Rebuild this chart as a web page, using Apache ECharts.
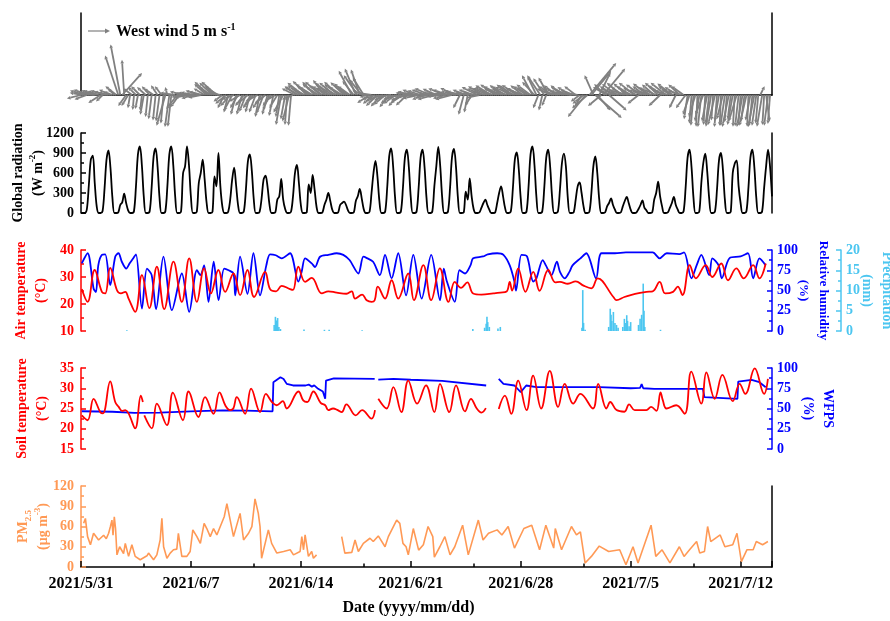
<!DOCTYPE html>
<html>
<head>
<meta charset="utf-8">
<script src="https://cdn.jsdelivr.net/npm/echarts@6/dist/echarts.min.js"></script>
<style>
  html, body { margin: 0; padding: 0; background: #fff; }
  #chart { width: 890px; height: 621px; }
</style>
</head>
<body>
<div id="chart"></div>
<script>
// Time runs in days since 2021/5/31 00:00; one tick label per week.
const dateLabels = ['2021/5/31', '2021/6/7', '2021/6/14', '2021/6/21', '2021/6/28', '2021/7/5', '2021/7/12'];
const dayMin = 0, dayMax = 44;

// Wind components (m s-1), 3-hourly, one row per day.
const windU = [
  [-3.2,-3.0,-3.4,-2.8,-3.5,-3.0,-2.6,-3.2],
  [-3.0,-2.5,-2.8,-1.5,-3.2,-2.8,-2.2,-2.6],
  [-2.0,-1.5,-2.5,-3.0,-2.2,4.5,-0.5,-1.8],
  [-1.5,-0.5,-2.0,-0.3,-1.8,-0.6,-2.0,-0.4],
  [-0.8,-2.0,-0.5,-1.8,-0.7,-2.2,-0.6,-1.5],
  [-0.8,-1.5,-0.6,-2.0,-0.5,-1.0,-0.8,-3.0],
  [-3.0,-2.5,-2.0,-2.2,-3.0,-2.5,-2.8,-3.2],
  [-3.0,-2.6,-3.2,-2.4,-3.0,-2.8,-3.1,-2.5],
  [-2.8,-3.2,-2.5,-3.0,-2.2,-3.4,-2.6,-3.0],
  [-2.0,-1.5,-2.5,-1.0,-2.2,-1.8,-2.8,-1.2],
  [-1.8,-2.5,-1.2,-2.0,-1.5,-2.4,-1.0,-2.0],
  [-2.2,-1.5,-2.8,-1.0,-2.0,-1.6,-2.5,-1.2],
  [-1.5,-2.0,-1.0,-2.5,-1.8,-0.8,-1.2,-2.2],
  [-1.0,-0.5,-1.5,-0.6,-2.5,-3.0,-2.8,-3.2],
  [-3.0,-3.5,-2.8,-3.2,-2.6,-3.4,-3.0,-2.8],
  [-3.2,-2.8,-3.5,-3.0,-2.6,-3.2,-2.9,-3.3],
  [-3.0,-3.4,-2.7,-3.2,-3.6,-2.9,-3.1,-2.6],
  [-3.2,-2.8,-3.0,-2.6,-2.5,-3.2,-2.0,-2.8],
  [-2.5,-3.0,-1.8,-2.8,-3.2,-2.4,-3.0,-2.6],
  [-3.0,-2.4,-3.2,-2.6,-3.0,-2.2,-3.4,-2.8],
  [-2.6,-3.2,-2.4,-3.0,-2.8,-3.2,-2.5,-3.0],
  [-3.0,-3.4,-2.8,-3.2,-3.6,-3.0,-3.3,-2.8],
  [-3.4,-3.0,-3.6,-3.2,-3.8,-3.1,-3.5,-3.0],
  [-3.2,-3.6,-3.0,-3.5,-3.3,-3.8,-3.1,-3.4],
  [-3.0,-1.5,-3.4,-1.2,-3.0,-0.8,-3.2,-1.5],
  [-3.4,-3.0,-3.6,-2.8,-3.2,-3.5,-3.0,-3.3],
  [-3.2,-3.6,-2.8,-3.4,-3.0,-3.5,-2.6,-3.2],
  [-3.0,-3.4,-2.8,-3.6,-3.2,-2.6,-3.4,-3.0],
  [-3.2,-2.8,-3.4,-3.0,-2.6,-3.2,-2.4,-2.8],
  [-2.0,-1.2,-3.0,-0.8,-2.5,-1.0,-2.2,-3.0],
  [-3.0,-3.4,-2.8,-3.2,-3.6,-2.6,-3.0,-3.4],
  [-3.2,-2.8,-3.5,-3.0,-2.6,-3.2,-2.0,-1.5],
  [-2.5,-4.0,-3.5,6.1,4.5,-2.0,6.0,3.0],
  [2.5,-3.0,5.0,-2.5,-3.2,4.0,-2.8,-3.0],
  [-3.0,-3.4,-2.8,-3.2,-2.6,-3.5,-3.0,-3.3],
  [-3.2,-2.8,-3.6,-3.0,-2.5,-3.3,-3.0,-2.7],
  [-3.0,-3.5,-2.6,-3.2,-2.8,-3.4,-3.0,-2.6],
  [-3.2,-2.8,-3.5,-3.0,-2.6,-3.3,-2.8,-1.5],
  [-3.0,-2.6,-3.2,-2.8,-2.2,-0.8,-1.5,-0.5],
  [-0.6,-1.5,-0.3,-1.0,-0.8,-1.8,-0.4,-1.2],
  [-0.8,-1.2,-0.4,-1.6,-0.6,-1.0,-0.3,-1.4],
  [-1.0,-0.5,-1.5,-0.7,-1.2,-0.4,-1.8,-0.8],
  [-0.5,-1.3,-0.8,-1.6,-0.3,-1.1,-0.7,-1.4],
  [-1.0,-0.6,1.0,-1.2,-0.4,0.8,-0.9,-0.5]
];
const windV = [
  [-0.8,0.5,1.0,-1.0,1.2,0.8,1.1,0.6],
  [1.0,0.9,-1.8,-1.5,1.0,0.8,0.6,1.2],
  [0.8,1.5,2.0,9.0,11.5,5.0,8.0,-2.5],
  [-2.5,-3.0,1.5,-3.4,1.8,-3.2,2.0,-3.6],
  [-4.5,1.8,-5.0,2.0,-5.5,1.5,-5.8,2.2],
  [-6.0,2.0,-6.5,-7.0,1.8,-7.3,-7.2,0.5],
  [0.3,-3.2,-2.8,-0.5,0.8,-0.5,0.4,-0.6],
  [0.5,-0.8,0.6,-0.4,1.0,-0.6,0.8,1.5],
  [2.5,3.0,1.8,2.8,2.2,3.0,1.5,0.5],
  [-1.5,-3.0,-2.0,-4.0,-2.5,-3.5,-1.0,-4.5],
  [-3.0,-1.5,-4.5,-2.5,-3.8,-2.0,-4.0,-3.0],
  [-2.5,-4.0,-1.5,-5.0,-3.0,-4.2,-2.0,-4.5],
  [-3.5,-2.5,-4.8,-1.5,-3.0,-5.0,-6.8,-4.0],
  [-5.5,-6.8,-6.0,-7.0,-1.0,1.5,2.0,1.8],
  [2.2,2.8,1.5,3.2,2.0,2.5,1.8,3.0],
  [2.5,1.8,3.0,2.2,3.4,2.0,2.8,1.6],
  [2.0,2.8,1.6,3.0,2.4,1.8,2.9,2.2],
  [2.6,2.0,5.5,3.2,6.0,4.5,5.8,3.5],
  [4.0,1.0,-0.5,-1.8,0.5,-2.0,-1.0,-2.5],
  [-1.5,-2.6,-0.8,-2.2,-1.2,-2.8,-0.5,-1.8],
  [-2.0,-1.0,-2.5,-0.6,-1.8,-1.2,-2.4,0.5],
  [0.8,-0.5,1.2,0.4,-0.8,1.0,0.2,-1.0],
  [1.2,-0.6,1.5,0.3,-1.0,1.4,0.6,-0.4],
  [0.5,1.5,-0.8,1.2,0.4,-1.0,1.6,0.8],
  [1.0,-3.0,0.8,-4.5,1.2,-4.0,0.6,-2.5],
  [1.2,0.5,1.8,-0.6,1.5,2.0,0.8,1.6],
  [1.8,2.2,1.0,2.4,1.5,2.0,2.3,1.2],
  [2.0,1.4,2.4,1.8,2.2,1.0,2.3,1.6],
  [1.6,2.2,1.0,2.0,1.8,2.4,4.5,3.0],
  [4.2,-3.0,4.5,-3.5,3.8,-2.5,4.0,1.5],
  [2.0,1.2,2.2,0.8,1.5,2.2,1.0,1.8],
  [1.4,1.8,0.6,1.2,2.0,0.5,-1.5,-2.5],
  [-2.0,-5.0,-3.0,7.3,5.5,4.5,-5.2,-3.5],
  [5.0,-2.5,6.0,2.5,1.8,-3.5,1.2,2.0],
  [1.5,2.5,1.0,2.8,1.8,1.2,2.6,0.8],
  [2.0,1.0,2.8,1.6,-2.0,2.4,1.2,2.0],
  [1.2,2.6,1.8,0.8,2.4,1.5,2.8,-2.5],
  [2.2,1.4,2.8,1.0,2.0,2.6,1.2,-3.0],
  [1.8,2.4,1.0,2.0,-3.0,-5.5,-4.5,-6.5],
  [-7.0,-5.0,-7.2,-6.0,-7.3,-4.5,-6.8,-6.0],
  [-6.5,-7.2,-5.8,-6.8,-7.3,-6.0,-7.0,-5.5],
  [-7.0,-6.2,-7.3,-5.5,-6.8,-7.2,-6.0,-7.1],
  [-6.8,-7.3,-6.0,-7.0,-7.2,-5.8,-6.9,-7.3],
  [-7.0,-6.5,2.0,-7.2,-6.8,-6.0,-7.0,-6.6]
];
const windRefSpeed = 5; // m s-1, reference arrow

// Global radiation (W m-2), 3-hourly, one row per day.
const radiation = [
  [0,0,0,60,420,800,860,450],
  [100,0,0,30,370,800,940,680],
  [230,0,0,10,120,160,290,150],
  [40,0,0,30,400,880,1000,720],
  [240,0,0,30,390,850,970,700],
  [230,0,0,30,400,880,1000,720],
  [240,0,0,30,600,700,1000,720],
  [240,0,0,20,450,600,800,500],
  [150,0,0,20,550,400,900,400],
  [100,0,0,20,200,500,680,420],
  [120,0,0,30,350,770,880,640],
  [210,0,0,20,220,500,560,400],
  [130,0,0,10,200,250,510,200],
  [60,0,0,20,250,600,720,450],
  [120,0,0,10,430,300,570,350],
  [90,0,0,10,120,200,300,180],
  [50,0,0,10,120,150,170,120],
  [40,0,0,10,180,250,360,220],
  [60,0,0,20,300,600,780,550],
  [180,0,0,30,390,850,970,700],
  [230,0,0,30,380,830,950,690],
  [230,0,0,30,380,830,950,690],
  [230,0,0,30,400,700,990,700],
  [230,0,0,30,380,840,960,700],
  [230,0,0,10,320,200,520,250],
  [60,0,0,10,80,150,200,120],
  [50,0,0,10,150,300,400,250],
  [80,0,0,30,370,800,910,660],
  [220,0,0,30,400,880,1000,720],
  [240,0,0,30,380,830,950,690],
  [230,0,0,30,360,750,890,700],
  [220,0,0,10,200,400,460,300],
  [100,0,0,20,300,700,850,600],
  [200,0,0,10,100,150,220,120],
  [50,0,0,10,100,180,240,150],
  [50,0,0,10,60,120,190,80],
  [40,0,0,10,200,300,470,250],
  [100,0,0,10,80,150,240,120],
  [50,0,0,30,380,830,950,690],
  [230,0,0,30,450,750,890,620],
  [220,0,0,30,360,790,900,650],
  [200,0,0,20,600,740,790,400],
  [150,0,0,30,380,830,950,690],
  [230,0,0,30,380,700,950,700]
];
const radiationLast = 250; // reading at 2021/7/14 00:00

// Air temperature (°C): [day, value]
const airTemp = [
  [0.05,25.5],[0.42,20.8],[0.87,32.6],[1.33,24.5],[1.54,23.9],[1.86,33.4],[2.29,25.1],[2.54,23.9],[2.82,24.5],[3.03,22.0],
  [3.45,17.1],[3.88,30.7],[4.35,18.5],[4.83,33.8],[5.30,18.1],[5.89,35.7],[6.42,20.8],[6.89,36.9],[7.38,20.8],[7.84,33.2],
  [8.27,23.9],[8.75,32.6],[9.18,24.5],[9.71,31.3],[10.13,23.3],[10.60,32.6],[11.02,22.6],[11.72,31.9],[12.04,25.5],[12.42,24.7],
  [12.78,26.7],[13.31,25.5],[13.5,25.2],[13.84,33.8],[14.27,28.2],[14.69,29.7],[15.33,23.9],[15.75,24.7],[16.28,24.2],[16.9,23.8],
  [17.24,24.7],[17.45,22.0],[17.9,23.5],[18.19,21.4],[18.51,20.8],[18.7,21.4],[18.9,26.4],[19.36,22.0],[19.78,28.8],[20.2,22.0],
  [20.84,31.3],[21.2,21.4],[21.8,34.4],[22.3,21.4],[22.85,33.2],[23.4,20.8],[23.8,28.2],[24.2,26.0],[24.6,28.0],[24.97,23.9],
  [25.5,23.5],[26.25,23.9],[26.7,24.2],[27.1,24.6],[27.3,28.2],[27.45,25.0],[27.84,33.2],[28.3,24.5],[28.8,31.9],[29.2,24.9],
  [29.75,32.6],[30.2,28.0],[30.5,28.2],[31.0,27.5],[31.5,28.4],[32.0,26.8],[32.5,25.8],[32.9,29.5],[33.9,22.6],[34.1,21.4],
  [34.6,22.6],[35.0,23.3],[35.6,24.1],[36.0,24.5],[36.4,24.7],[36.85,28.2],[37.2,23.9],[37.7,24.5],[38.0,26.4],[38.3,23.3],
  [38.76,34.4],[39.15,29.5],[39.78,34.4],[40.2,30.0],[40.77,35.0],[41.2,28.8],[41.73,33.2],[42.2,29.5],[42.8,34.4],[43.2,29.5],[43.6,35.0]
];

// Relative humidity (%): [day, value]
const relHumidity = [
  [0.05,83.5],[0.42,96],[0.8,52.5],[0.95,48],[1.1,81],[1.33,94],[1.54,94.6],[1.86,56.6],[2.18,91.7],[2.39,96],
  [2.6,85.5],[2.88,77],[3.1,83.5],[3.35,90.5],[3.5,94.6],[3.88,27.7],[4.2,77],[4.5,69],[4.78,27],[5.25,91.7],
  [5.79,25.7],[6.42,71],[6.89,23.6],[7.38,75.2],[7.6,69],[7.84,81],[8.12,36],[8.45,85.5],[8.76,38],[9.12,77],
  [9.4,75],[9.71,71],[9.82,44],[10.13,91.7],[10.6,46],[10.98,96],[11.4,44],[11.8,81],[12.04,94.6],[12.4,93.5],
  [12.78,89.7],[13.31,96],[13.84,61],[14.05,73],[14.27,89.7],[14.69,83.5],[14.9,79],[15.22,91.7],[15.75,94],[16.28,96],
  [16.7,94],[17.1,87.6],[17.66,71],[17.98,91.7],[18.2,90],[18.6,85.5],[19.03,69],[19.36,94],[19.78,65],[20.2,96],
  [20.7,44],[21.16,94],[21.69,40],[22.3,94],[22.86,38],[23.1,77],[23.3,61],[23.8,36],[24.1,75],[24.45,71],
  [24.8,81],[24.97,89.7],[25.6,92],[25.9,94.6],[26.5,96],[26.9,94],[27.3,81],[27.6,61],[27.7,50],[28.05,94],
  [28.4,92],[28.8,61],[29.0,65],[29.4,87.6],[29.6,81],[29.96,69],[30.3,85.5],[30.5,73],[30.8,65],[31.1,73],
  [31.3,81],[31.8,89.7],[32.18,96],[32.8,65],[33.14,96],[34.0,96],[34.7,97],[36.4,97],[36.85,89.7],[37.3,96],
  [38.1,95],[38.4,97],[38.87,65],[39.2,81],[39.5,94],[40.0,69],[40.2,89.7],[40.6,81],[40.8,65],[41.3,90],
  [42.0,92],[42.47,96],[42.8,65],[43.2,89.7],[43.6,81]
];

// Hourly precipitation (mm): [day, value]
const precipitation = [
  [2.92,0.2],[12.3,1.5],[12.38,3.5],[12.45,2.6],[12.52,3.2],[12.6,1.0],[12.7,0.5],[14.2,0.4],[15.5,0.3],[15.8,0.3],
  [17.9,0.2],[24.95,0.5],[25.7,0.8],[25.8,1.8],[25.85,3.5],[25.9,2.2],[26.0,1.0],[26.55,0.6],[26.7,1.0],[31.9,0.8],
  [31.95,10.1],[32.0,2.0],[32.1,0.3],[33.6,1.0],[33.7,5.5],[33.75,4.0],[33.8,2.5],[33.9,4.7],[34.0,2.0],[34.1,1.5],
  [34.2,0.8],[34.5,1.0],[34.6,3.0],[34.65,2.0],[34.75,3.9],[34.8,2.5],[34.9,1.2],[35.0,2.2],[35.5,1.5],[35.6,3.0],
  [35.7,4.0],[35.8,11.7],[35.85,5.0],[35.9,1.0],[36.9,0.3]
];

// Soil temperature (°C): [day, value]; '-' marks missing records
const soilTemp = [
  [0.05,23.3],[0.42,22.1],[0.8,27.4],[1.23,24.1],[1.4,23.8],[1.86,31.7],[2.18,26.6],[2.4,25.4],[2.61,24.4],[2.82,24.6],
  [3.03,23.8],[3.45,20.1],[3.81,28.2],[3.94,26.6],[3.97,'-'],
  [4.03,23.3],[4.51,20.1],[4.83,26.2],[5.47,20.9],[5.85,28.9],[6.49,22.1],[6.85,29.2],[7.48,22.9],[7.9,27.8],[8.44,23.7],
  [8.82,29.0],[9.2,25.7],[9.5,24.6],[9.7,25.0],[9.92,27.8],[10.45,23.7],[10.83,29.9],[11.4,24.1],[11.77,28.6],[12.16,26.6],
  [12.45,25.8],[12.85,26.8],[13.1,25.0],[13.85,29.2],[14.15,27.0],[14.4,26.6],[14.8,29.2],[15.26,26.4],[15.55,25.8],[15.75,24.6],
  [16.05,25.0],[16.35,24.6],[16.6,24.1],[16.9,26.0],[17.5,23.3],[17.9,24.6],[18.5,22.5],[18.72,24.6],[18.8,'-'],
  [18.93,27.4],[19.46,25.0],[19.89,30.3],[20.4,24.1],[20.84,31.9],[21.4,26.2],[21.97,30.7],[22.5,24.1],[22.86,31.1],[23.45,24.1],
  [23.88,30.7],[24.45,24.3],[24.83,27.4],[25.2,25.0],[25.5,24.0],[25.78,25.1],[26.2,'-'],
  [26.6,24.9],[26.99,28.2],[27.4,23.7],[27.84,31.9],[28.37,24.6],[28.79,33.1],[29.3,25.0],[29.85,34.3],[30.38,25.4],[30.8,31.1],
  [31.34,26.2],[31.8,28.6],[32.6,25.0],[32.93,31.1],[33.46,25.0],[33.7,26.6],[34.1,24.6],[34.6,24.2],[34.9,26.0],[35.26,24.6],
  [36.0,24.6],[36.3,25.4],[36.64,24.4],[36.9,29.0],[37.05,27.0],[37.28,25.0],[37.9,25.8],[38.44,23.7],[38.86,34.1],[39.5,26.2],
  [39.82,33.9],[40.35,27.4],[40.84,33.3],[41.5,26.8],[41.94,31.1],[42.3,28.6],[42.9,34.9],[43.5,28.6],[43.74,32.3]
];

// Water-filled pore space (%): [day, value]
const wfps = [
  [0.05,46.6],[2.0,46.0],[3.4,44.5],[5.0,45.0],[7.0,46.5],[9.0,47.8],[10.5,47.5],[12.2,46.5],[12.25,82.5],[12.7,88.6],
  [12.9,86.5],[13.1,80.4],[13.5,78.4],[14.3,78.4],[14.5,79.5],[14.7,77.0],[14.85,78.5],[15.1,74.3],[15.4,71.0],[15.55,62.0],
  [15.6,84.5],[16.1,87.3],[18.7,86.5],[18.8,'-'],
  [18.93,85.7],[19.9,86.5],[21.0,85.5],[23.0,84.0],[25.8,78.4],[26.2,'-'],
  [26.6,86.5],[26.9,80.4],[27.6,78.4],[28.0,70.2],[28.35,78.4],[29.0,76.3],[33.0,76.3],[35.0,75.0],[35.6,75.5],[35.7,80.0],
  [35.8,75.0],[36.5,74.3],[39.6,74.3],[39.7,64.1],[41.8,62.0],[41.85,83.3],[42.7,85.3],[43.2,82.5],[43.6,76.3]
];

// PM2.5 (µg m-3): [day, value]
const pm25 = [
  [0.17,64.7],[0.28,72],[0.42,45],[0.6,33],[0.8,50],[0.92,52],[1.12,40],[1.44,47],[1.61,42],[1.76,50],
  [1.87,59.8],[1.97,69.5],[2.04,47],[2.12,74.4],[2.2,57],[2.29,18],[2.46,30],[2.71,20],[2.82,35],[3.03,15.7],
  [3.24,33],[3.45,15.7],[3.77,10.8],[4.2,16.6],[4.3,20.6],[4.62,10.8],[4.83,18],[5.04,40],[5.15,72],[5.26,30],
  [5.47,13],[5.68,20.6],[5.89,25.5],[6.1,26.5],[6.2,50],[6.42,15.7],[6.74,15.7],[6.95,23],[7.12,55],[7.38,45],
  [7.6,35],[7.84,64.7],[8.01,57],[8.23,45],[8.44,57],[8.65,47.5],[9.12,74.4],[9.29,94],[9.5,69.5],[9.71,45],
  [10.13,79.4],[10.35,40],[10.67,50],[10.88,59.8],[11.08,101],[11.29,79.4],[11.4,60],[11.5,13],[11.93,55],[12.14,35],
  [12.47,20.6],[12.9,23],[13.32,25.5],[13.53,18],[13.95,23],[14.06,45],[14.17,25.5],[14.27,47.5],[14.48,15.7],[14.69,23],
  [14.8,13],[15.0,18],[15.5,'-'],
  [16.6,45],[16.8,20.6],[17.24,21.6],[17.45,40],[17.66,23],[17.98,35],[18.4,42.6],[18.61,37.7],[18.93,46],[19.36,30],
  [19.57,45],[20.1,69.5],[20.3,64.7],[20.5,35],[20.7,30],[20.84,18],[21.16,57],[21.5,25],[21.8,33],[22.1,60],
  [22.4,45],[22.5,14.7],[22.85,30],[23.17,45],[23.5,18],[23.8,30],[24.3,62],[24.66,18],[25.3,69.5],[25.6,40],
  [25.95,50],[26.5,55],[26.8,47.5],[27.2,60],[27.6,28],[28.2,57],[28.7,62],[29.2,25.5],[29.6,62],[30.1,28],
  [30.2,57],[30.6,25.5],[31.23,60],[31.55,47.5],[31.8,52],[32.1,5.9],[32.5,15.7],[33.0,31],[33.6,23],[34.3,25.5],
  [34.7,3.4],[35.15,30],[35.47,6],[36.3,62],[36.6,15.7],[37.0,25.5],[37.5,6],[38.1,30],[38.4,15.7],[38.75,25.5],
  [39.2,37.7],[39.4,20.6],[39.7,23],[39.9,60],[40.1,37.7],[40.7,47.5],[41.0,30],[41.5,33],[41.77,50],[42.05,8],
  [42.4,25.5],[42.8,25.5],[43.0,37.7],[43.4,33],[43.74,37.7]
];

// ---------- drawing ----------
const FONT = '"Liberation Serif", "Times New Roman", serif';
const RED = '#ff0000', BLUE = '#0000ff', CYAN = '#4cc6f0', ORANGE = '#ff9955', GRAY = '#808080';
const GRID_LEFT = 81, GRID_RIGHT = 118, PLOT_W = 890 - GRID_LEFT - GRID_RIGHT;
const PRECIP_AXIS_X = 841;          // outer right axis of the weather panel
const PX_PER_MS = 4.4;              // stick length per m s-1

function sampleRows(rows) {
  const out = [];
  rows.forEach((row, d) => row.forEach((v, k) => out.push([d + k / row.length, v])));
  return out;
}
const radData = sampleRows(radiation).concat([[radiation.length, radiationLast]]);
const windData = [];
windU.forEach((row, d) => row.forEach((u, k) => windData.push([d + k / row.length, u, windV[d][k]])));

function nameStyle(color, size) {
  const base = { color, fontFamily: FONT, fontWeight: 'bold' };
  return Object.assign({}, base, {
    fontSize: size, lineHeight: 20,
    rich: {
      t: Object.assign({}, base, { fontSize: size, lineHeight: 20 }),
      sup: Object.assign({}, base, { fontSize: 9, lineHeight: 9, verticalAlign: 'top' }),
      sub: Object.assign({}, base, { fontSize: 9, lineHeight: 9, verticalAlign: 'bottom' })
    }
  });
}
function valueAxis(o) {
  const color = o.color;
  return {
    type: 'value', gridIndex: o.grid, position: o.position,
    min: o.min, max: o.max, interval: o.interval,
    axisLine: { show: true, onZero: false, lineStyle: { color, width: 1.5 } },
    axisTick: { show: true, inside: true, length: 5, lineStyle: { color, width: 1.5 } },
    minorTick: { show: true, splitNumber: 2, length: 3, lineStyle: { color, width: 1.5 } },
    axisLabel: { color, fontFamily: FONT, fontWeight: 'bold', fontSize: 14, margin: o.margin || 7,
      formatter: v => String(v) },
    splitLine: { show: false },
    name: o.name || '', nameLocation: 'middle', nameGap: o.nameGap || 30, nameMoveOverlap: false,
    nameRotate: o.position === 'left' ? 90 : -90,
    nameTextStyle: nameStyle(color, o.nameSize || 14)
  };
}
function bareAxis(grid, position) {
  return { type: 'value', gridIndex: grid, position, min: 0, max: 1,
    axisLine: { show: true, onZero: false, lineStyle: { color: '#000', width: 1.5 } },
    axisTick: { show: false }, axisLabel: { show: false }, splitLine: { show: false } };
}
function hiddenX(grid, max) {
  return { type: 'value', gridIndex: grid, min: dayMin, max: max === undefined ? dayMax : max, show: false };
}

const grids = [
  { left: GRID_LEFT, right: GRID_RIGHT, top: 13, height: 82 },
  { left: GRID_LEFT, right: GRID_RIGHT, top: 133, height: 80 },
  { left: GRID_LEFT, right: GRID_RIGHT, top: 250, height: 81 },
  { left: GRID_LEFT, right: GRID_RIGHT, top: 368, height: 81 },
  { left: GRID_LEFT, right: GRID_RIGHT, top: 486, height: 81 },
  // minor date ticks, four days after each labelled week
  { left: GRID_LEFT + PLOT_W * 4 / 44, width: PLOT_W * 35 / 44, top: 486, height: 81 },
  // precipitation: same day scale, widened to the outer axis
  { left: GRID_LEFT, width: PRECIP_AXIS_X - GRID_LEFT, top: 250, height: 81 }
].map(g => Object.assign({ outerBoundsMode: 'none', containLabel: false }, g));

const xAxes = [
  { type: 'value', gridIndex: 0, min: dayMin, max: dayMax, position: 'top',
    axisLine: { show: true, lineStyle: { color: '#000', width: 1.5 } },
    axisTick: { show: false }, axisLabel: { show: false }, splitLine: { show: false } },
  hiddenX(1), hiddenX(2), hiddenX(3),
  { type: 'value', gridIndex: 4, min: dayMin, max: dayMax, interval: 7,
    axisLine: { show: true, onZero: false, lineStyle: { color: '#000', width: 1.5 } },
    axisTick: { show: true, inside: true, length: 6, lineStyle: { color: '#000', width: 1.5 } },
    axisLabel: { color: '#000', fontFamily: FONT, fontWeight: 'bold', fontSize: 16, margin: 9,
      formatter: v => (v % 7 === 0 ? dateLabels[v / 7] : '') },
    splitLine: { show: false },
    name: 'Date (yyyy/mm/dd)', nameLocation: 'middle', nameGap: 33, nameMoveOverlap: false,
    nameTextStyle: { color: '#000', fontFamily: FONT, fontWeight: 'bold', fontSize: 16, padding: [0, 36, 0, 0] } },
  { type: 'value', gridIndex: 5, min: 4, max: 39, interval: 7,
    axisLine: { show: false },
    axisTick: { show: true, inside: true, length: 3.5, lineStyle: { color: '#000', width: 1.5 } },
    axisLabel: { show: false }, splitLine: { show: false } },
  hiddenX(6, dayMax * (PRECIP_AXIS_X - GRID_LEFT) / PLOT_W)
];

const yAxes = [
  bareAxis(0, 'left'),                                   // 0 wind box
  bareAxis(0, 'right'),                                  // 1
  valueAxis({ grid: 1, position: 'left', color: '#000', min: 0, max: 1200, interval: 300,
    name: '{t|Global radiation}\n{t|(W m}{sup|-2}{t|)}', nameGap: 33 }),       // 2
  bareAxis(1, 'right'),                                  // 3
  valueAxis({ grid: 2, position: 'left', color: RED, min: 10, max: 40, interval: 10,
    name: '{t|Air temperature}\n{t|(°C)}', nameGap: 30 }),                      // 4
  valueAxis({ grid: 2, position: 'right', color: BLUE, min: 0, max: 100, interval: 25,
    name: '{t|Relative humidity}\n{t|(%)}', nameGap: 21, margin: 5, nameSize: 13 }), // 5
  valueAxis({ grid: 6, position: 'right', color: CYAN, min: 0, max: 20, interval: 5,
    name: '{t|Precipitation}\n{t|(mm)}', nameGap: 16, margin: 5 }),            // 6
  valueAxis({ grid: 3, position: 'left', color: RED, min: 15, max: 35, interval: 5,
    name: '{t|Soil temperature}\n{t|(°C)}', nameGap: 29 }),                     // 7
  valueAxis({ grid: 3, position: 'right', color: BLUE, min: 0, max: 100, interval: 25,
    name: '{t|WFPS}\n{t|(%)}', nameGap: 26, margin: 5 }),                      // 8
  valueAxis({ grid: 4, position: 'left', color: ORANGE, min: 0, max: 120, interval: 30,
    name: '{t|PM}{sub|2.5}\n{t|(μg m}{sup|-3}{t|)}', nameGap: 28 }),          // 9
  bareAxis(4, 'right'),                                  // 10
  { type: 'value', gridIndex: 5, min: 0, max: 1, show: false }  // 11
];

function lineSeries(x, y, data, color, extra) {
  return Object.assign({ type: 'line', xAxisIndex: x, yAxisIndex: y, data, showSymbol: false,
    symbol: 'none', lineStyle: { color, width: 1.8 }, itemStyle: { color }, connectNulls: false,
    animation: false }, extra || {});
}

const series = [
  {
    type: 'custom', xAxisIndex: 0, yAxisIndex: 0, data: windData, clip: false, animation: false,
    renderItem(params, api) {
      const p = api.coord([api.value(0), 0]);
      const ex = p[0] + api.value(1) * PX_PER_MS;
      const ey = p[1] - api.value(2) * PX_PER_MS;
      const a = Math.atan2(ey - p[1], ex - p[0]);
      const h = 3.6, w = 1.8;
      const bx = ex - h * Math.cos(a), by = ey - h * Math.sin(a);
      return { type: 'group', children: [
        { type: 'line', shape: { x1: p[0], y1: p[1], x2: bx, y2: by }, style: { stroke: GRAY, lineWidth: 1.8 } },
        { type: 'polygon', shape: { points: [[ex, ey], [bx - w * Math.sin(a), by + w * Math.cos(a)], [bx + w * Math.sin(a), by - w * Math.cos(a)]] },
          style: { fill: GRAY } }
      ] };
    }
  },
  lineSeries(1, 2, radData, '#000', { smooth: 0.35, lineStyle: { color: '#000', width: 1.8 } }),
  { type: 'bar', xAxisIndex: 6, yAxisIndex: 6, data: precipitation, barWidth: 1.6,
    itemStyle: { color: CYAN }, animation: false },
  lineSeries(2, 5, relHumidity, BLUE, { smooth: 0.3 }),
  lineSeries(2, 4, airTemp, RED, { smooth: 0.4 }),
  lineSeries(3, 8, wfps, BLUE),
  lineSeries(3, 7, soilTemp, RED, { smooth: 0.4 }),
  lineSeries(4, 9, pm25, ORANGE, { lineStyle: { color: ORANGE, width: 1.6 } })
];

const chart = echarts.init(document.getElementById('chart'), null, { renderer: 'canvas' });
const refLen = windRefSpeed * PX_PER_MS;
chart.setOption({
  animation: false,
  backgroundColor: '#fff',
  grid: grids,
  xAxis: xAxes,
  yAxis: yAxes,
  series,
  graphic: [
    { type: 'line', shape: { x1: 88, y1: 31, x2: 88 + refLen - 3, y2: 31 }, style: { stroke: GRAY, lineWidth: 1.2 } },
    { type: 'polygon', shape: { points: [[88 + refLen, 31], [88 + refLen - 5, 28.6], [88 + refLen - 5, 33.4]] }, style: { fill: GRAY } },
    { type: 'text', left: 116, top: 22,
      style: { text: '{t|West wind 5 m s}{sup|-1}',
        rich: {
          t: { fontFamily: FONT, fontWeight: 'bold', fontSize: 16, lineHeight: 20, fill: '#000' },
          sup: { fontFamily: FONT, fontWeight: 'bold', fontSize: 10, lineHeight: 10, verticalAlign: 'top', fill: '#000' }
        } } }
  ]
});
</script>
</body>
</html>
